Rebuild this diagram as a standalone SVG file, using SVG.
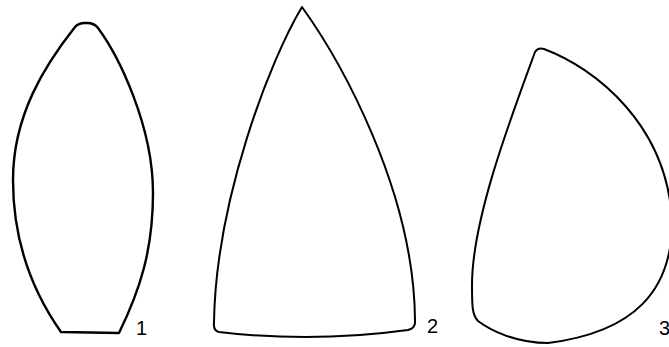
<svg xmlns="http://www.w3.org/2000/svg" width="669" height="347" viewBox="0 0 669 347">
<style>
.outline{fill:none;stroke:#000;stroke-width:2;stroke-linejoin:round;stroke-linecap:round}
.lbl{font-family:"Liberation Sans",Arial,sans-serif;font-size:20px;fill:#000}
</style>
<rect width="669" height="347" fill="#fff"/>
<g id="shape1">
<path class="outline" style="stroke-width:2.4" d="M75,27 C79,22 84,23 87,23 C92,23 95,24 98,28 C118,55 153,125 153,193 C153,250 140,290 119,333 L61,332 C35,295 13,245 13,180 C13,115 45,65 75,27 Z"/>
<text class="lbl" x="136" y="335">1</text>
</g>
<g id="shape2">
<path class="outline" d="M302,7 C340,60 414,190 415,320 Q416,328 408,330 Q313,343 219,332 Q213,331 214,322 C216,200 270,60 302,7 Z"/>
<text class="lbl" x="427" y="333">2</text>
</g>
<g id="shape3">
<path class="outline" d="M535,52 Q538,47 544,49 C595,68 668,125 672,222 C672,290 635,332 548,343 C515,343 490,330 478,321 C472,315 472,305 472,285 C472,220 510,120 535,52 Z"/>
<text class="lbl" x="659" y="335">3</text>
</g>
</svg>
